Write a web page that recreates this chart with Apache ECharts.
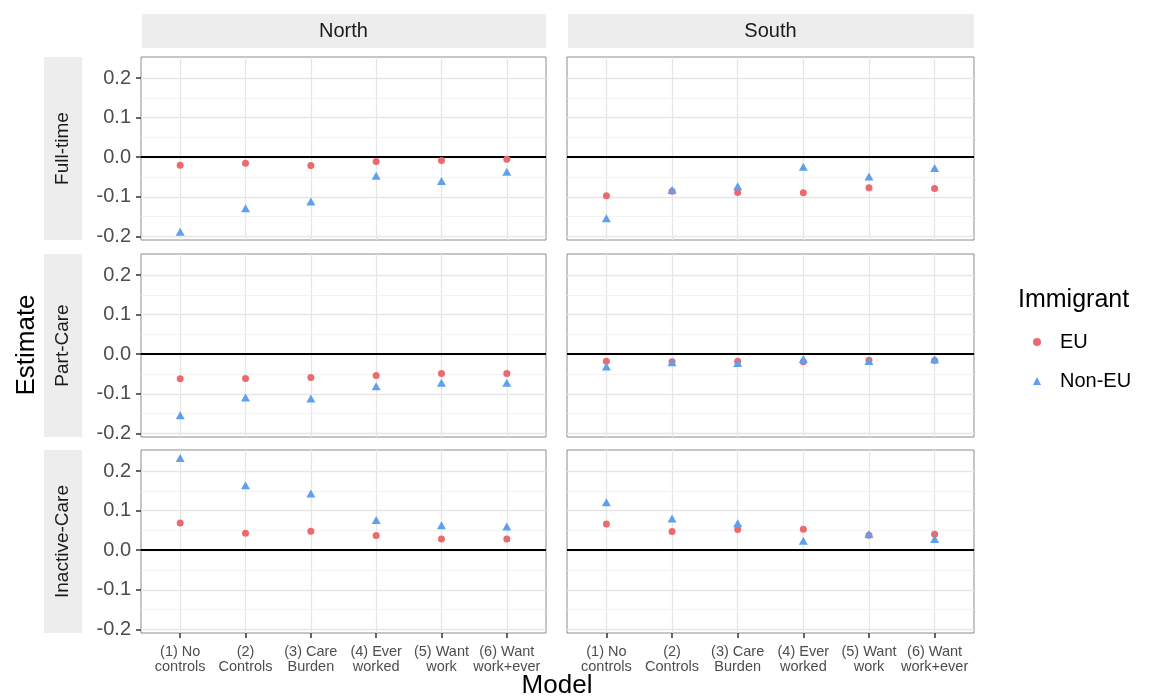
<!DOCTYPE html>
<html>
<head>
<meta charset="utf-8">
<title>Estimates by model</title>
<script src="https://cdn.jsdelivr.net/npm/echarts@6.0.0/dist/echarts.min.js"></script>
<style>
  html, body { margin: 0; padding: 0; background: #fff; }
  #main { width: 1152px; height: 698px; }
</style>
</head>
<body>
<div id="main"></div>
<script>
// categories (x = 1..6 on a value axis so the panel padding matches ggplot)
const models = ['(1) No\ncontrols', '(2)\nControls', '(3) Care\nBurden', '(4) Ever\nworked', '(5) Want\nwork', '(6) Want\nwork+ever'];
const modelPos = [1, 2, 3, 4, 5, 6];
const regions = ['North', 'South'];
const outcomes = ['Full-time', 'Part-Care', 'Inactive-Care'];
const yTicks = [-0.2, -0.1, 0, 0.1, 0.2];
const yMinor = [-0.15, -0.05, 0.05, 0.15];

// estimates
const northFullTimeEU = [-0.020, -0.015, -0.021, -0.011, -0.008, -0.005];
const northFullTimeNonEU = [-0.188, -0.129, -0.112, -0.047, -0.060, -0.037];
const southFullTimeEU = [-0.097, -0.086, -0.089, -0.090, -0.077, -0.079];
const southFullTimeNonEU = [-0.154, -0.083, -0.073, -0.024, -0.049, -0.027];
const northPartCareEU = [-0.062, -0.061, -0.059, -0.054, -0.049, -0.049];
const northPartCareNonEU = [-0.154, -0.109, -0.112, -0.081, -0.072, -0.072];
const southPartCareEU = [-0.018, -0.019, -0.018, -0.019, -0.015, -0.016];
const southPartCareNonEU = [-0.031, -0.020, -0.022, -0.012, -0.017, -0.013];
const northInactiveEU = [0.069, 0.043, 0.048, 0.037, 0.028, 0.028];
const northInactiveNonEU = [0.233, 0.164, 0.143, 0.076, 0.063, 0.060];
const southInactiveEU = [0.066, 0.047, 0.052, 0.053, 0.038, 0.040];
const southInactiveNonEU = [0.121, 0.080, 0.068, 0.024, 0.041, 0.028];

const panels = [
  { row: 0, col: 0, eu: northFullTimeEU, non: northFullTimeNonEU },
  { row: 0, col: 1, eu: southFullTimeEU, non: southFullTimeNonEU },
  { row: 1, col: 0, eu: northPartCareEU, non: northPartCareNonEU },
  { row: 1, col: 1, eu: southPartCareEU, non: southPartCareNonEU },
  { row: 2, col: 0, eu: northInactiveEU, non: northInactiveNonEU },
  { row: 2, col: 1, eu: southInactiveEU, non: southInactiveNonEU }
];

const FONT = "'Liberation Sans', Arial, Helvetica, sans-serif";
const EU_COLOR = '#ec6a6e';
const NON_COLOR = '#5ea0ee';
const colLeft = [141, 567];
const colWidth = [405, 407];
const rowTop = [57, 254, 450];
const rowHeight = 183;

const grids = [], xAxes = [], yAxes = [], series = [];

panels.forEach(function (p, i) {
  const bottomRow = p.row === 2;
  const leftCol = p.col === 0;
  grids.push({
    left: colLeft[p.col], top: rowTop[p.row],
    width: colWidth[p.col], height: rowHeight,
    show: true, backgroundColor: '#fff',
    borderColor: '#8c8c8c', borderWidth: 1
  });
  xAxes.push({
    type: 'value', gridIndex: i, min: 0.4, max: 6.6,
    axisLine: { show: false, onZero: false },
    axisTick: { show: bottomRow, customValues: modelPos, length: 5, lineStyle: { color: '#333', width: 1.5 } },
    axisLabel: {
      show: bottomRow, customValues: modelPos, margin: 11,
      fontFamily: FONT, fontSize: 14.5, lineHeight: 15, color: '#4d4d4d',
      formatter: function (v) { return models[Math.round(v) - 1]; }
    },
    splitLine: { show: true, lineStyle: { color: '#e6e6e6', width: 1.3 } }
  });
  yAxes.push({
    type: 'value', gridIndex: i, min: -0.209, max: 0.253,
    axisLine: { show: false, onZero: false },
    axisTick: { show: leftCol, customValues: yTicks, length: 5, lineStyle: { color: '#333', width: 1.5 } },
    axisLabel: {
      show: leftCol, customValues: yTicks, margin: 10,
      fontFamily: FONT, fontSize: 20, color: '#4d4d4d',
      formatter: function (v) { return v.toFixed(1); }
    },
    splitLine: { show: true, lineStyle: { color: '#e6e6e6', width: 1.3 } }
  });
  series.push({
    name: 'EU', type: 'scatter', xAxisIndex: i, yAxisIndex: i,
    symbol: 'circle', symbolSize: 7,
    itemStyle: { color: EU_COLOR, opacity: 1 },
    data: p.eu.map(function (v, k) { return [modelPos[k], v]; }),
    markLine: {
      silent: true, z: 1, symbol: ['none', 'none'], animation: false,
      label: { show: false },
      data: yMinor.map(function (v) {
        return { yAxis: v, lineStyle: { color: '#efefef', width: 0.8, type: 'solid' } };
      }).concat([{ yAxis: 0, lineStyle: { color: '#000', width: 2, type: 'solid' } }])
    }
  });
  series.push({
    name: 'Non-EU', type: 'scatter', xAxisIndex: i, yAxisIndex: i,
    symbol: 'triangle', symbolSize: [9, 8],
    itemStyle: { color: NON_COLOR, opacity: 1 },
    data: p.non.map(function (v, k) { return [modelPos[k], v]; })
  });
});

// facet strips, axis titles, legend title
const graphics = [];
regions.forEach(function (r, c) {
  graphics.push({
    type: 'rect', shape: { x: colLeft[c] + 1, y: 14, width: colWidth[c] - 1, height: 34 },
    style: { fill: '#ededed' }, silent: true
  });
  graphics.push({
    type: 'text', x: colLeft[c] + colWidth[c] / 2, y: 31,
    style: { text: r, fill: '#1a1a1a', font: '20px ' + FONT, align: 'center', verticalAlign: 'middle' }
  });
});
outcomes.forEach(function (o, r) {
  graphics.push({
    type: 'rect', shape: { x: 44, y: rowTop[r], width: 38, height: rowHeight },
    style: { fill: '#ededed' }, silent: true
  });
  graphics.push({
    type: 'text', x: 63, y: rowTop[r] + rowHeight / 2, rotation: Math.PI / 2,
    style: { text: o, fill: '#1a1a1a', font: '19px ' + FONT, align: 'center', verticalAlign: 'middle' }
  });
});
graphics.push({
  type: 'text', x: 27, y: 345, rotation: Math.PI / 2,
  style: { text: 'Estimate', fill: '#000', font: '26px ' + FONT, align: 'center', verticalAlign: 'middle' }
});
graphics.push({
  type: 'text', x: 557, y: 686,
  style: { text: 'Model', fill: '#000', font: '26px ' + FONT, align: 'center', verticalAlign: 'middle' }
});
graphics.push({
  type: 'text', x: 1018, y: 300,
  style: { text: 'Immigrant', fill: '#000', font: '25px ' + FONT, align: 'left', verticalAlign: 'middle' }
});

const chart = echarts.init(document.getElementById('main'), null, { renderer: 'canvas' });
chart.setOption({
  animation: false,
  backgroundColor: '#fff',
  grid: grids,
  xAxis: xAxes,
  yAxis: yAxes,
  legend: {
    orient: 'vertical', left: 1033, top: 332, padding: 0,
    itemWidth: 8, itemHeight: 8, itemGap: 19,
    selectedMode: false,
    textStyle: { fontFamily: FONT, fontSize: 20, lineHeight: 20, color: '#000', padding: [0, 0, 0, 14] },
    data: [{ name: 'EU', icon: 'circle' }, { name: 'Non-EU', icon: 'triangle' }]
  },
  graphic: graphics,
  series: series
});
</script>
</body>
</html>
